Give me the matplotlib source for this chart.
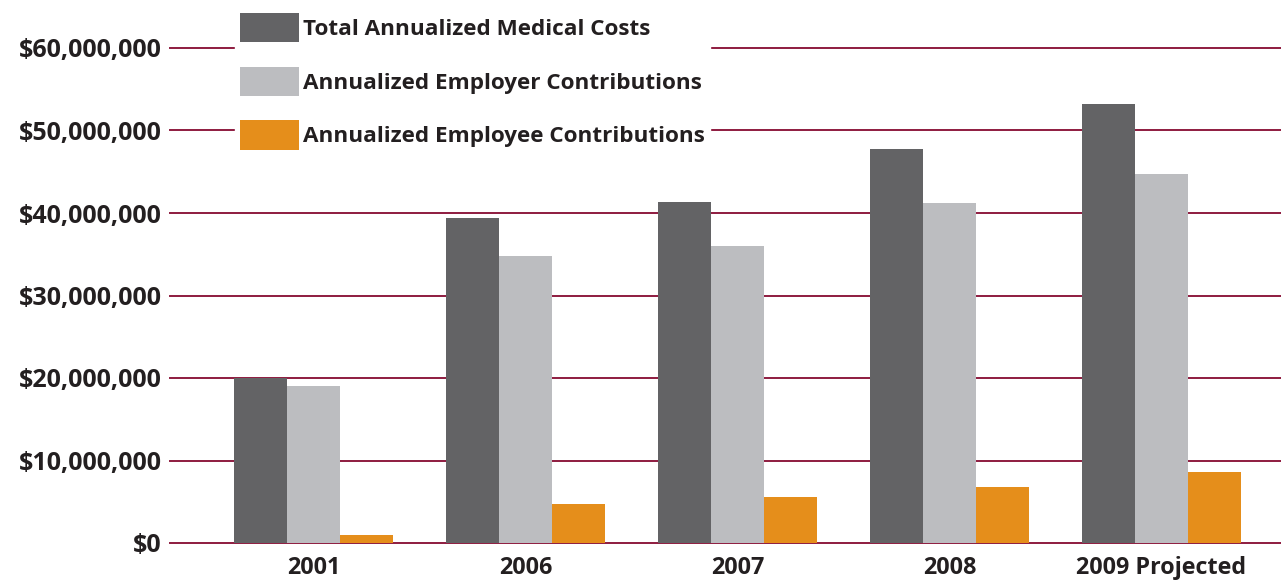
import matplotlib
matplotlib.use("Agg")
import matplotlib.pyplot as plt
import numpy as np

categories = ["2001", "2006", "2007", "2008", "2009 Projected"]
total_costs = [20.0e6, 39.4e6, 41.3e6, 47.8e6, 53.2e6]
employer_contrib = [19.0e6, 34.8e6, 36.0e6, 41.2e6, 44.7e6]
employee_contrib = [1.0e6, 4.7e6, 5.6e6, 6.8e6, 8.6e6]
series_labels = ["Total Annualized Medical Costs",
                 "Annualized Employer Contributions",
                 "Annualized Employee Contributions"]
yticks = [0, 10e6, 20e6, 30e6, 40e6, 50e6, 60e6]
ytick_labels = ["$0", "$10,000,000", "$20,000,000", "$30,000,000",
                "$40,000,000", "$50,000,000", "$60,000,000"]

colors = ["#636365", "#bcbdc0", "#e58e1b"]
grid_color = "#8e1b3f"
text_color = "#231f20"
font = ["Open Sans", "DejaVu Sans"]

W, H = 1281, 580
fig = plt.figure(figsize=(W / 100, H / 100), dpi=100)
left, right, bottom, top = 170, 1281, 543, 48
ax = fig.add_axes([left / W, 1 - bottom / H, (right - left) / W, (bottom - top) / H])

x = np.arange(len(categories))
bw = 0.25
series = [total_costs, employer_contrib, employee_contrib]
for i, (vals, c, lab) in enumerate(zip(series, colors, series_labels)):
    ax.bar(x + (i - 1) * bw, vals, width=bw, color=c, label=lab, zorder=3,
           linewidth=0)

ax.set_xlim(-0.677, 4.564)
ax.set_ylim(0, 60e6)
ax.set_yticks(yticks)
ax.set_yticklabels(ytick_labels)
ax.set_xticks(x)
ax.set_xticklabels(categories)
for t in ax.get_yticklabels():
    t.set_fontfamily(font)
    t.set_fontweight("bold")
    t.set_fontsize(18)
    t.set_color(text_color)
for t in ax.get_xticklabels():
    t.set_fontfamily(font)
    t.set_fontweight("bold")
    t.set_fontsize(16.8)
    t.set_color(text_color)
ax.tick_params(axis="y", length=0, pad=6)
ax.tick_params(axis="x", length=0, pad=9)
for s in ax.spines.values():
    s.set_visible(False)
for y in yticks:
    ax.axhline(y, color=grid_color, lw=1.4, zorder=1, clip_on=False)

fs = 16.2
leg = ax.legend(loc="upper left", bbox_to_anchor=(235 / W, 1 - 8.4 / H),
                bbox_transform=fig.transFigure, frameon=True, fancybox=False,
                edgecolor="white", facecolor="white", framealpha=1,
                handlelength=2.63, handleheight=1.62, handletextpad=0.2,
                labelspacing=1.09, borderpad=0.2, borderaxespad=0,
                prop={"family": font, "weight": "bold", "size": fs})
for t in leg.get_texts():
    t.set_color(text_color)
leg.set_zorder(5)

fig.savefig("out.png", dpi=100, facecolor="white")
